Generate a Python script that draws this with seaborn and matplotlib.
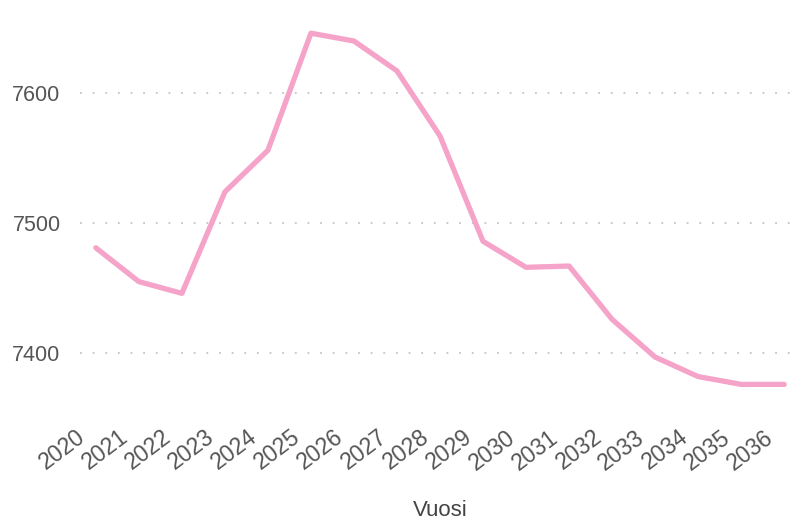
import matplotlib.pyplot as plt
import matplotlib.transforms as mtransforms
import seaborn as sns
import pandas as pd

# Values
years = list(range(2020, 2037))
values = [7481, 7455, 7446, 7524, 7556, 7646, 7640, 7617, 7567, 7486,
          7466, 7467, 7426, 7397, 7382, 7376, 7376]
yticks = [7400, 7500, 7600]

df = pd.DataFrame({"Vuosi": years, "Arvo": values})

sns.set_theme(style="white")
plt.rcParams['font.family'] = ['Liberation Sans', 'DejaVu Sans']

fig = plt.figure(figsize=(8, 5.22), dpi=100)
ax = fig.add_axes([0.1, 0.23, 0.9, 0.74])

sns.lineplot(data=df, x="Vuosi", y="Arvo", color="#f5a3c8", linewidth=3.8,
             solid_capstyle="round", ax=ax)

ax.margins(x=0.023, y=0.05)
ax.set_yticks(yticks)
ax.set_xticks(years)
ax.set_xticklabels([str(y) for y in years], rotation=37, ha="right",
                   rotation_mode="anchor")
ax.yaxis.grid(True, color="#c4c4c4", linestyle=(0, (1, 6)), linewidth=1.3)
ax.xaxis.grid(False)
sns.despine(ax=ax, left=True, bottom=True)

ax.tick_params(axis="y", length=0, pad=14, labelsize=15.5, labelcolor="#555555")
ax.tick_params(axis="x", length=0, pad=17, labelsize=16.5, labelcolor="#555555")

# nudge the slanted year labels to the left
shift = mtransforms.ScaledTranslation(-20 / 100, 0, fig.dpi_scale_trans)
for lbl in ax.get_xticklabels():
    lbl.set_transform(lbl.get_transform() + shift)

ax.set_ylabel("")
ax.set_xlabel("Vuosi", fontsize=16, color="#444444", labelpad=18)

fig.savefig("out.png", dpi=100)
